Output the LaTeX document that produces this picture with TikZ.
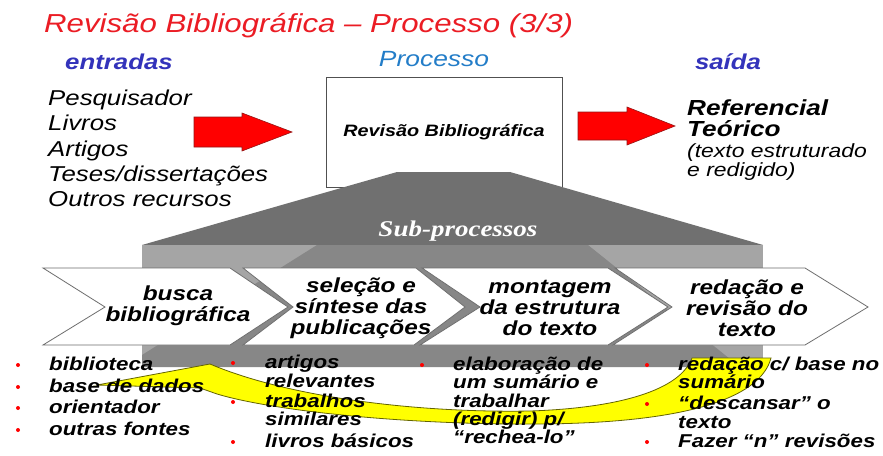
\documentclass[tikz,border=0pt]{standalone}
\usepackage{fontspec}
\setmainfont{Liberation Sans}[FakeStretch=1.2]
\newfontfamily\subfont{Liberation Serif}[FakeStretch=1.2]
\definecolor{titlered}{RGB}{235,28,36}
\definecolor{hdrblue}{RGB}{51,51,187}
\definecolor{procblue}{RGB}{35,125,200}
\definecolor{trapgray}{RGB}{112,112,112}
\definecolor{bandlight}{RGB}{165,165,165}
\definecolor{banddark}{RGB}{135,135,135}
\definecolor{chevline}{RGB}{110,110,110}
\definecolor{arrred}{RGB}{255,0,0}
\definecolor{arrredline}{RGB}{150,20,20}
\definecolor{yelfill}{RGB}{255,255,0}
\definecolor{yelline}{RGB}{100,100,0}
\definecolor{boxline}{RGB}{80,80,80}
\begin{document}
\begin{tikzpicture}[x=1pt,y=-1pt,
  hdr/.style={font=\fontsize{21.5}{24}\selectfont\bfseries\itshape, text=hdrblue, anchor=base, inner sep=0},
  inlist/.style={font=\fontsize{21.5}{25}\selectfont\itshape, anchor=base west, inner sep=0},
  outtxt/.style={font=\fontsize{19.1}{21}\selectfont\itshape, anchor=base west, inner sep=0},
  outbold/.style={font=\fontsize{21.8}{24}\selectfont\bfseries\itshape, anchor=base west, inner sep=0},
  chev/.style={fill=white, draw=chevline, line width=0.8pt, line join=miter},
  chevtxt/.style={font=\fontsize{20.3}{21}\selectfont\bfseries\itshape, align=center, inner sep=0},
  item/.style={font=\fontsize{18.6}{20}\selectfont\bfseries\itshape, anchor=base west, inner sep=0},
  bulletdot/.style={fill=red, circle, inner sep=0, minimum size=4pt},
  redarrow/.style={fill=arrred, draw=arrredline, line width=0.6pt}
]
\useasboundingbox (0,0) rectangle (883,455);
\fill[white] (0,0) rectangle (883,455);

% title and headers
\node[font=\fontsize{26}{30}\selectfont\itshape, text=titlered, anchor=base west, inner sep=0] (title) at (44,32) {Revisão Bibliográfica – Processo (3/3)};
\node[hdr] (entradas) at (119,69) {entradas};
\node[hdr, font=\fontsize{22}{24}\selectfont\itshape, text=procblue] (processo) at (434,66) {Processo};
\node[hdr] (saida) at (728,69) {saída};

% inputs
\node[inlist] (in1) at (48,105) {Pesquisador};
\node[inlist] (in2) at (48,130) {Livros};
\node[inlist] (in3) at (48,156) {Artigos};
\node[inlist] (in4) at (48,181) {Teses/dissertações};
\node[inlist] (in5) at (48,206) {Outros recursos};

% red arrows
\draw[redarrow] (194,117) -- (242,117) -- (242,113) -- (292,132) -- (242,151) -- (242,147) -- (194,147) -- cycle;
\draw[redarrow] (578,112) -- (627,112) -- (627,107) -- (675,126) -- (627,145) -- (627,140) -- (578,140) -- cycle;

% process box
\node[draw=boxline, fill=white, line width=0.8pt, minimum width=236pt, minimum height=110pt, inner sep=0,
      font=\fontsize{16.5}{18}\selectfont\bfseries\itshape] (box) at (444,132) {Revisão Bibliográfica};

% output
\node[outbold] (out1) at (687,115) {Referencial};
\node[outbold] (out2) at (687,136) {Teórico};
\node[outtxt] (out3) at (687,157) {(texto estruturado};
\node[outtxt] (out4) at (687,176) {e redigido)};

% sub-process block
\fill[trapgray] (397,172) -- (510,172) -- (763,245) -- (142,245) -- cycle;
\fill[bandlight] (142,245) rectangle (763,367);
\fill[banddark] (317,245) -- (588,245) -- (740,367) -- (142,367) -- (142,355) -- cycle;
\node[font=\fontsize{22.5}{24}\selectfont\subfont\bfseries\itshape, text=white, inner sep=0] (sub) at (458,231) {Sub-processos};

% chevrons
\draw[chev] (43,268) -- (230,268) -- (288,307) -- (230,345) -- (43,345) -- (105,307) -- cycle;
\draw[chev] (243,268) -- (416,268) -- (465,307) -- (414,345) -- (243,345) -- (293,307) -- cycle;
\draw[chev] (422,268) -- (608,268) -- (668,307) -- (608,345) -- (420,345) -- (480,307) -- cycle;
\draw[chev] (615,268) -- (805,268) -- (868,307) -- (805,345) -- (613,345) -- (672,307) -- cycle;
\node[chevtxt] (ch1) at (178,306) {busca\\bibliográfica};
\node[chevtxt] (ch2) at (361,308) {seleção e\\síntese das\\publicações};
\node[chevtxt] (ch3) at (550,308) {montagem\\da estrutura\\do texto};
\node[chevtxt] (ch4) at (747,308) {redação e\\revisão do\\texto};

% yellow curved arrow
\draw[fill=yelfill, draw=yelline, line width=0.8pt]
  (97,385) -- (210,364)
  .. controls (290,398) and (420,413) .. (530,411)
  .. controls (620,408) and (680,390) .. (692,358)
  -- (771,358)
  .. controls (760,400) and (680,423) .. (540,424)
  .. controls (400,425) and (270,410) .. (217,394)
  -- (200,388) -- cycle;

% column 1
\node[bulletdot] (b11) at (18,365) {};
\node[bulletdot] (b12) at (18,387) {};
\node[bulletdot] (b13) at (18,408) {};
\node[bulletdot] (b14) at (18,430) {};
\node[item] (c11) at (49,370) {biblioteca};
\node[item] (c12) at (49,392) {base de dados};
\node[item] (c13) at (49,413) {orientador};
\node[item] (c14) at (49,435) {outras fontes};

% column 2
\node[bulletdot] (b21) at (233,363) {};
\node[bulletdot] (b22) at (233,402) {};
\node[bulletdot] (b23) at (233,442) {};
\node[item] (c21) at (265,368) {artigos};
\node[item] (c22) at (265,387) {relevantes};
\node[item] (c23) at (265,407) {trabalhos};
\node[item] (c24) at (265,425) {similares};
\node[item] (c25) at (265,447) {livros básicos};

% column 3
\node[bulletdot] (b31) at (422,365) {};
\node[item] (c31) at (453,370) {elaboração de};
\node[item] (c32) at (453,388) {um sumário e};
\node[item] (c33) at (453,407) {trabalhar};
\node[item] (c34) at (453,425) {(redigir) p/};
\node[item] (c35) at (453,443) {“rechea-lo”};

% column 4
\node[bulletdot] (b41) at (647,365) {};
\node[bulletdot] (b42) at (647,404) {};
\node[bulletdot] (b43) at (647,442) {};
\node[item] (c41) at (678,370) {redação c/ base no};
\node[item] (c42) at (678,388) {sumário};
\node[item] (c43) at (678,409) {“descansar” o};
\node[item] (c44) at (678,428) {texto};
\node[item] (c45) at (678,447) {Fazer “n” revisões};
\end{tikzpicture}
\end{document}
